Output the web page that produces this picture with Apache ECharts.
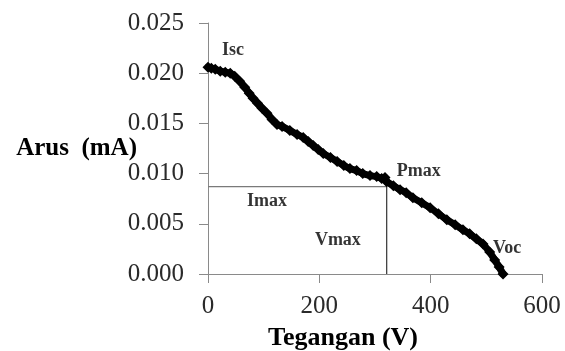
<!DOCTYPE html>
<html>
<head>
<meta charset="utf-8">
<script src="https://cdn.jsdelivr.net/npm/echarts@6/dist/echarts.min.js"></script>
<style>
  html, body { margin: 0; padding: 0; background: #fff; }
  #graph { width: 565px; height: 351px; }
</style>
</head>
<body>
<div id="graph"></div>
<script>
"use strict"

// I-V curve
const volts = [0, 6, 13, 22, 31, 40, 48, 57, 66, 74, 81, 89, 97, 106, 115, 124, 133, 147, 160, 171,
    180, 189, 198, 207, 220, 232, 244, 255, 267, 278, 291, 303, 312, 318, 321, 333, 345, 356, 368, 384,
    399, 414, 429, 444, 458, 470, 482, 494, 506, 515, 523, 530];
const amps = [0.0206, 0.0205, 0.0204, 0.0202, 0.0201, 0.0200, 0.0197, 0.0192, 0.0186, 0.0180, 0.0175, 0.0170, 0.0165, 0.0160, 0.0154, 0.0149, 0.0147, 0.0143, 0.0139, 0.0136,
    0.0132, 0.0128, 0.0124, 0.0120, 0.0116, 0.0112, 0.0108, 0.0105, 0.0103, 0.0100, 0.0098, 0.0097, 0.0095, 0.0096, 0.0092, 0.0088, 0.0084, 0.0081, 0.0076, 0.0071,
    0.0066, 0.0060, 0.0054, 0.0049, 0.0044, 0.0040, 0.0035, 0.0030, 0.0022, 0.0014, 0.0007, 0.0000];

// maximum power point
const vmax = 321, imax = 0.0087;

// annotation texts and where they sit (data coords, left edge)
const noteText = ["Isc", "Pmax", "Imax", "Vmax", "Voc"];
const noteV = [25, 339, 70, 192, 512];
const noteI = [0.0223, 0.0102, 0.0072, 0.0034, 0.0026];

const xTicks = { min: 0, max: 600, interval: 200 };
const yTicks = { min: 0, max: 0.025, interval: 0.005 };

const serif = "Liberation Serif";
const axisGray = "#8a8a8a";

const myChart = echarts.init(document.getElementById("graph"), null, { renderer: "canvas" });

const option = {
    animation: false,
    grid: { left: 208, right: 23, top: 23, bottom: 77, containLabel: false, outerBoundsMode: "none" },
    xAxis: {
        type: "value",
        min: xTicks.min, max: xTicks.max, interval: xTicks.interval,
        name: "Tegangan (V)",
        nameLocation: "middle",
        nameGap: 51,
        nameMoveOverlap: false,
        nameTextStyle: { fontFamily: serif, fontWeight: "bold", fontSize: 26, color: "#000", padding: [0, 64, 0, 0] },
        axisLine: { lineStyle: { color: axisGray, width: 1 } },
        axisTick: { inside: false, length: 9, lineStyle: { color: axisGray } },
        axisLabel: { fontFamily: serif, fontSize: 25, color: "#2a2a2a", margin: 20 },
        splitLine: { show: false }
    },
    yAxis: {
        type: "value",
        min: yTicks.min, max: yTicks.max, interval: yTicks.interval,
        name: "Arus  (mA)",
        nameLocation: "middle",
        nameRotate: 0,
        nameGap: 71,
        nameMoveOverlap: false,
        nameTextStyle: { fontFamily: serif, fontWeight: "bold", fontSize: 25, color: "#000" },
        axisLine: { show: true, lineStyle: { color: axisGray, width: 1 } },
        axisTick: { show: true, inside: false, length: 9, lineStyle: { color: axisGray } },
        axisLabel: { fontFamily: serif, fontSize: 25, color: "#2a2a2a", margin: 24, formatter: v => v.toFixed(3) },
        splitLine: { show: false }
    },
    series: [
        {
            name: "Imax line",
            type: "line",
            data: [[0, imax], [vmax, imax]],
            symbol: "none",
            lineStyle: { color: "#7a7a7a", width: 1.2 },
            z: 1
        },
        {
            name: "Vmax line",
            type: "line",
            data: [[vmax, 0], [vmax, imax]],
            symbol: "none",
            lineStyle: { color: "#333", width: 1.2 },
            z: 1
        },
        {
            name: "I-V",
            type: "line",
            data: volts.map((v, i) => [v, amps[i]]),
            symbol: "diamond",
            symbolSize: 11,
            itemStyle: { color: "#000" },
            lineStyle: { color: "#000", width: 7, cap: "round", join: "round" },
            z: 3
        },
        {
            name: "notes",
            type: "scatter",
            data: noteText.map((t, i) => ({ name: t, value: [noteV[i], noteI[i]] })),
            symbolSize: 0,
            label: {
                show: true,
                position: "right",
                distance: 0,
                formatter: p => p.name,
                fontFamily: serif,
                fontWeight: "bold",
                fontSize: 18,
                color: "#000"
            },
            z: 4
        }
    ]
};
myChart.setOption(option);
</script>
</body>
</html>
